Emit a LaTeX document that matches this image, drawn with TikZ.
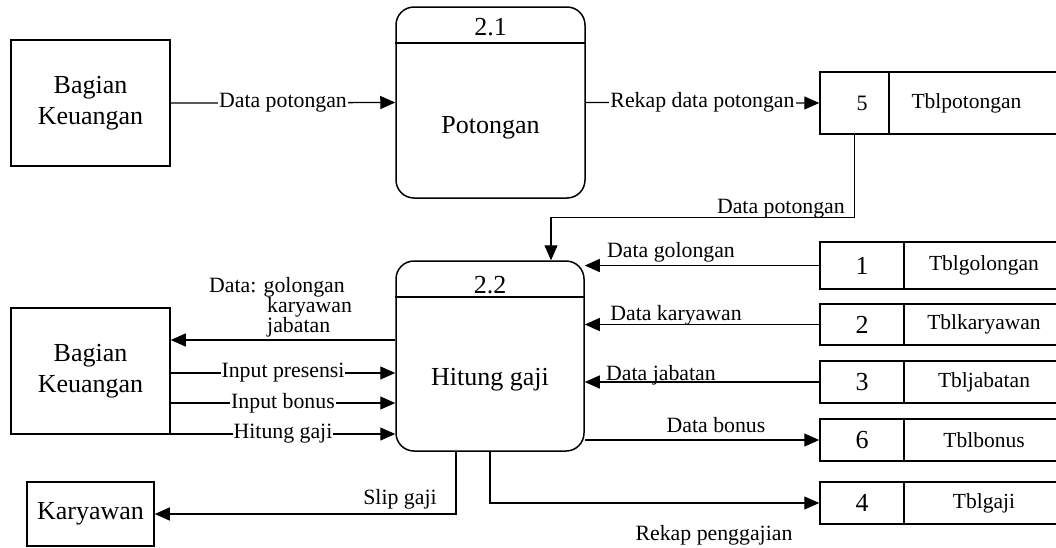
\documentclass[tikz,border=0pt]{standalone}
\usepackage{fontspec}
\setmainfont{Liberation Serif}
\usetikzlibrary{arrows.meta,calc}
\newcommand{\dfdbig}{\fontsize{26}{31}\selectfont}
\newcommand{\dfdlab}{\fontsize{21.8}{20}\selectfont}
\newcommand{\dfdtbl}{\fontsize{21.5}{24}\selectfont}
\begin{document}
\begin{tikzpicture}[x=1pt,y=-1pt,
  extbox/.style={draw,line width=1.5pt,inner sep=0pt,align=center,font=\dfdbig},
  proc/.style={draw,line width=1.5pt,rounded corners=18pt,inner sep=0pt},
  ptext/.style={inner sep=0pt,font=\dfdbig},
  storenum/.style={draw,line width=1.5pt,inner sep=0pt,font=\dfdbig},
  storename/.style={inner sep=0pt,font=\dfdtbl},
  edge/.style={line width=1.5pt},
  flow/.style={line width=1.3pt,-{Triangle[length=15pt,width=13pt]}},
  lab/.style={inner sep=1pt,font=\dfdlab},
  onlab/.style={lab,fill=white}]
\useasboundingbox (0,0) rectangle (1056,547);

% external entities
\node[extbox,minimum width=159pt,minimum height=126pt] (bk1) at (90.5,103) {Bagian\\Keuangan};
\node[extbox,minimum width=159pt,minimum height=126pt] (bk2) at (90.5,371) {Bagian\\Keuangan};
\node[extbox,minimum width=127pt,minimum height=64pt] (kar) at (90.5,514) {Karyawan};

% process 2.1
\node[proc,minimum width=189pt,minimum height=191pt] (p21) at (490.5,102.5) {};
\draw[edge] (p21.west |- 0,43) -- (p21.east |- 0,43);
\node[ptext] (p21id) at (490.5,27) {2.1};
\node[ptext] (p21name) at (490.5,128) {Potongan};

% process 2.2
\node[proc,minimum width=188pt,minimum height=190pt] (p22) at (490,356) {};
\draw[edge] (p22.west |- 0,297) -- (p22.east |- 0,297);
\node[ptext] (p22id) at (490,285) {2.2};
\node[ptext] (p22name) at (490,380) {Hitung gaji};

% data stores (open on the right)
\node[storenum,minimum width=69pt,minimum height=62pt,font=\fontsize{22}{24}\selectfont,text depth=0pt] (s5) at (854.5,103) {\hspace*{15pt}5};
\node[storename,minimum width=167pt,minimum height=62pt] (s5n) at (972.5,103) {Tblpotongan\hspace*{12pt}};
\draw[edge] (s5n.north west) -- (s5n.north east) (s5n.south west) -- (s5n.south east);

\foreach \id/\num/\name/\yc/\h in {s1/1/Tblgolongan/265.5/47, s2/2/Tblkaryawan/324.5/41, s3/3/Tbljabatan/382/42, s6/6/Tblbonus/440/42, s4/4/Tblgaji/503/42}{
  \node[storenum,minimum width=84pt,minimum height=\h pt] (\id) at (862,\yc) {\num};
  \node[storename,minimum width=152pt,minimum height=\h pt] (\id n) at (980,\yc) {\hspace*{8pt}\name};
  \draw[edge] (\id n.north west) -- (\id n.north east) (\id n.south west) -- (\id n.south east);
}

% flows of process 2.1
\draw[flow] (bk1.east) -- node[onlab] (l1) {Data potongan} (p21.west);
\draw[flow] (p21.east) -- node[onlab] (l2) {Rekap data potongan} (s5.west);
\draw[flow] (s5.south) |- ($(p22.north)+(61,-43)$) -- ($(p22.north)+(61,0)$);
\node[lab,anchor=base east] (l3) at (846,213) {Data potongan};

% flows between stores and process 2.2
\draw[flow] (s1.west) -- (s1.west -| p22.east);
\node[lab,anchor=base] (l4) at (671,257) {Data golongan};
\draw[flow] (s2.west) -- (s2.west -| p22.east);
\node[lab,anchor=base] (l5) at (676,320) {Data karyawan};
\draw[flow] (s3.west) -- (s3.west -| p22.east);
\node[lab,anchor=base] (l6) at (661,380) {Data jabatan};
\draw[flow] (p22.east |- s6.west) -- (s6.west);
\node[lab,anchor=base] (l7) at (716,432) {Data bonus};
\draw[flow] (p22.south) |- (s4.west);
\node[lab,anchor=base] (l8) at (714,540) {Rekap penggajian};

% flows between process 2.2 and the entities
\draw[flow] (p22.west |- 0,340) -- (bk2.east |- 0,340);
\node[lab,anchor=north west,align=left,inner sep=0pt] (l9) at (209,277)
  {Data: golongan\\\hspace*{58pt}karyawan\\\hspace*{58pt}jabatan};
\draw[flow] (bk2.east |- 0,373) -- node[onlab] (l10) {Input presensi} (p22.west |- 0,373);
\draw[flow] (bk2.east |- 0,403) -- node[onlab] (l11) {Input bonus} (p22.west |- 0,403);
\draw[flow] (bk2.east |- 0,434) -- node[onlab] (l12) {Hitung gaji} (p22.west |- 0,434);
\draw[flow] ($(p22.south)+(-34,0)$) |- (kar.east);
\node[lab,anchor=base] (l13) at (400,504) {Slip gaji};
\end{tikzpicture}
\end{document}
